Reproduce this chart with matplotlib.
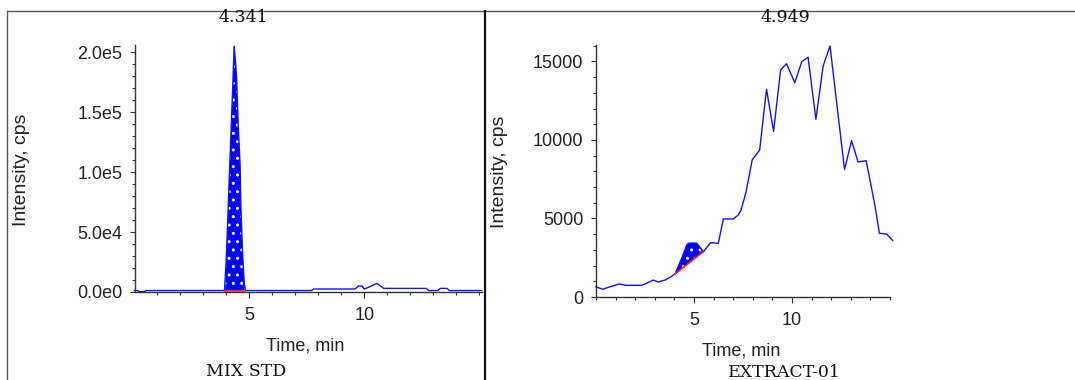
import numpy as np
import matplotlib
matplotlib.use("Agg")
import matplotlib.pyplot as plt
from matplotlib.lines import Line2D
from matplotlib.ticker import MultipleLocator, FixedLocator, FixedFormatter

# MIX STD chromatogram (time in min, intensity in cps)
std_t = [0.0, 0.15, 0.2, 0.45, 0.5, 3.5, 3.92, 3.99, 4.06, 4.13, 4.20, 4.27, 4.34,
         4.41, 4.45, 4.52, 4.60, 4.64, 4.71, 4.78, 4.83, 7.7, 7.8, 9.6, 9.75, 9.9,
         10.0, 10.25, 10.55, 10.85, 12.7, 12.8, 13.2, 13.3, 13.6, 13.7, 15.1]
std_i = [1200, 1200, 400, 400, 1200, 1200, 1200, 24000, 58000, 96000, 131000, 166000, 205000,
         190000, 178000, 139000, 106000, 68000, 32000, 8000, 1200, 1200, 2500, 2500, 5000, 5000,
         2500, 4500, 7200, 3000, 3000, 1200, 1200, 3000, 3000, 1200, 1200]
std_rt = "4.341"
std_base_t = [3.95, 4.80]
std_base_i = [1200, 1200]

# EXTRACT-01 chromatogram
ext_t = [0.0, 0.34, 0.63, 1.19, 1.53, 2.33, 2.58, 2.92, 3.18, 3.52, 3.78, 4.03, 4.37,
         4.63, 4.71, 4.95, 5.14, 5.48, 5.85, 6.24, 6.5, 7.0, 7.26, 7.4, 7.64, 7.97, 8.35,
         8.7, 9.06, 9.42, 9.72, 10.14, 10.5, 10.82, 11.22, 11.59, 11.94, 12.68, 13.04,
         13.37, 13.78, 13.98, 14.24, 14.46, 14.84, 15.14]
ext_i = [650, 490, 620, 830, 745, 745, 870, 1080, 955, 1080, 1250, 1465, 2460,
         3310, 3420, 3440, 3420, 2890, 3460, 3420, 4970, 4970, 5220, 5540, 6600, 8730, 9360,
         13230, 10550, 14460, 14860, 13650, 14990, 15270, 11320, 14720, 15990, 8120, 9960,
         8600, 8680, 7450, 5750, 4060, 4000, 3590]
ext_rt = "4.949"
ext_base_t = [4.03, 5.48]
ext_base_i = [1465, 2890]

std_yticks = [0, 5e4, 1e5, 1.5e5, 2e5]
std_ylabels = ["0.0e0", "5.0e4", "1.0e5", "1.5e5", "2.0e5"]
ext_yticks = [0, 5000, 10000, 15000]
ext_ylabels = ["0", "5000", "10000", "15000"]

W, H = 1075, 380
fig = plt.figure(figsize=(W / 100, H / 100), dpi=100)
fig.patch.set_facecolor("white")

txt_col = "#222222"
sans = ["Liberation Sans", "DejaVu Sans"]
serif = ["DejaVu Serif"]


def px(x, y):
    return x / W, 1 - y / H


def make_axes(box, t, i, base_t, base_i, xlim, ylim, yticks, ylabels, ysub):
    l, r, top, bot = box
    ax = fig.add_axes([l / W, 1 - bot / H, (r - l) / W, (bot - top) / H])
    for s in ["top", "right"]:
        ax.spines[s].set_visible(False)
    for s in ["left", "bottom"]:
        ax.spines[s].set_color("#333333")
        ax.spines[s].set_linewidth(1.0)
    t = np.array(t)
    i = np.array(i)
    # integrated peak area
    m = (t >= base_t[0]) & (t <= base_t[1])
    poly_x = np.concatenate([[base_t[0]], t[m], [base_t[1]], base_t[::-1]])
    poly_y = np.concatenate([[base_i[0]], i[m], [base_i[1]], base_i[::-1]])
    ax.fill(poly_x, poly_y, facecolor="#0000ff", edgecolor="white", hatch="..",
            linewidth=0, zorder=2)
    ax.plot(t, i, color="#1010ff", lw=1.0, zorder=3, clip_on=False)
    ax.plot(base_t, base_i, color="#ff2020", lw=1.2, zorder=4)
    ax.set_xlim(*xlim)
    ax.set_ylim(*ylim)
    ax.xaxis.set_major_locator(FixedLocator([5, 10]))
    ax.xaxis.set_minor_locator(MultipleLocator(1))
    ax.yaxis.set_major_locator(FixedLocator(yticks))
    ax.yaxis.set_major_formatter(FixedFormatter(ylabels))
    ax.yaxis.set_minor_locator(MultipleLocator(ysub))
    ax.tick_params(axis="x", which="major", direction="out", length=4.3, width=0.8,
                   pad=6.5, colors="#333333", labelcolor=txt_col, labelsize=13)
    ax.tick_params(axis="y", which="major", direction="out", length=3.6, width=0.8,
                   pad=5.5, colors="#333333", labelcolor=txt_col, labelsize=13)
    ax.tick_params(which="minor", direction="out", length=2.2, width=0.8, colors="#333333")
    for lab in ax.get_xticklabels() + ax.get_yticklabels():
        lab.set_family(sans)
    return ax


ax1 = make_axes((135, 482, 45, 292), std_t, std_i, std_base_t, std_base_i,
                (0.03, 15.12), (0, 2.06e5), std_yticks, std_ylabels, 1e4)
ax2 = make_axes((596, 890, 45, 297), ext_t, ext_i, ext_base_t, ext_base_i,
                (0, 15.0), (0, 16050), ext_yticks, ext_ylabels, 1000)

# axis labels
fig.text(*px(305, 346), "Time, min", ha="center", va="center", fontsize=13,
         color=txt_col, family=sans)
fig.text(*px(741, 351), "Time, min", ha="center", va="center", fontsize=13,
         color=txt_col, family=sans)
fig.text(*px(22, 170), "Intensity, cps", ha="center", va="center", rotation=90,
         fontsize=14, color=txt_col, family=sans)
fig.text(*px(500, 172), "Intensity, cps", ha="center", va="center", rotation=90,
         fontsize=14, color=txt_col, family=sans)

# retention times and sample names
fig.text(*px(243, 18), std_rt, ha="center", va="center", fontsize=12.5,
         color="#111111", family=serif)
fig.text(*px(785, 18), ext_rt, ha="center", va="center", fontsize=12.5,
         color="#111111", family=serif)
fig.text(*px(246, 363), "MIX STD", ha="center", va="top", fontsize=12.5,
         color="#111111", family=serif)
fig.text(*px(784, 364), "EXTRACT-01", ha="center", va="top", fontsize=12.5,
         color="#111111", family=serif)

# panel frame
fig.add_artist(Line2D([7 / W, 1], [1 - 11 / H, 1 - 11 / H], color="#555555", lw=1.0))
fig.add_artist(Line2D([7 / W, 7 / W], [1 - 11 / H, 0], color="#555555", lw=1.0))
fig.add_artist(Line2D([485 / W, 485 / W], [1 - 11 / H, 0], color="#111111", lw=1.6))

fig.savefig("out.png", dpi=100)
